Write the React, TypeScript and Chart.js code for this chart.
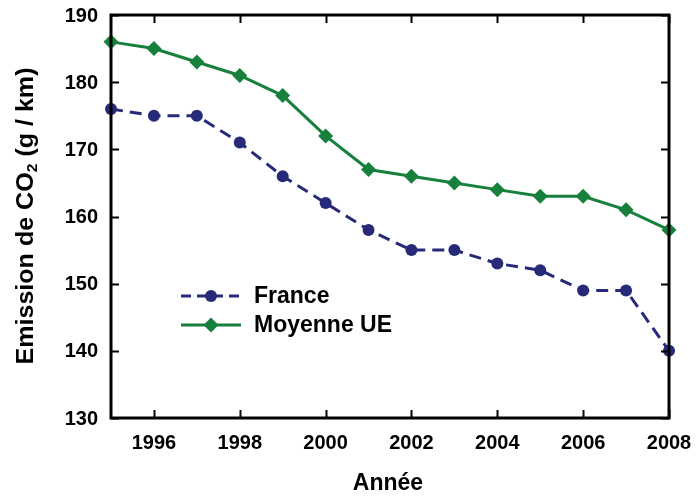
import React, { useEffect, useRef } from "react";
import { Chart, registerables } from "chart.js";

Chart.register(...registerables);

const years = [1995, 1996, 1997, 1998, 1999, 2000, 2001, 2002, 2003, 2004, 2005, 2006, 2007, 2008];
const france = [176, 175, 175, 171, 166, 162, 158, 155, 155, 153, 152, 149, 149, 140];
const moyenneUE = [186, 185, 183, 181, 178, 172, 167, 166, 165, 164, 163, 163, 161, 158];
const xTickValues = [1996, 1998, 2000, 2002, 2004, 2006, 2008];
const yTickValues = [130, 140, 150, 160, 170, 180, 190];

const FONT = "'Liberation Sans', Arial, Helvetica, sans-serif";
const NAVY = "#262a78";
const GREEN = "#16803c";

const framePlugin = {
  id: "frame",
  afterDatasetsDraw(chart: any) {
    const { ctx, chartArea: a, scales } = chart;
    const x = scales.x;
    const y = scales.y;
    ctx.save();
    ctx.strokeStyle = "#000";
    ctx.lineWidth = 3;
    ctx.strokeRect(a.left, a.top, a.right - a.left, a.bottom - a.top);
    ctx.lineWidth = 2;
    const tl = 8;
    ctx.beginPath();
    for (const v of xTickValues) {
      const px = Math.round(x.getPixelForValue(v)) + 0.5;
      ctx.moveTo(px, a.bottom);
      ctx.lineTo(px, a.bottom - tl);
      ctx.moveTo(px, a.top);
      ctx.lineTo(px, a.top + tl);
    }
    for (const v of yTickValues) {
      const py = Math.round(y.getPixelForValue(v)) + 0.5;
      ctx.moveTo(a.left, py);
      ctx.lineTo(a.left + tl, py);
      ctx.moveTo(a.right, py);
      ctx.lineTo(a.right - tl, py);
    }
    ctx.stroke();

    // tick labels
    ctx.fillStyle = "#000";
    ctx.font = `bold 20px ${FONT}`;
    ctx.textAlign = "center";
    ctx.textBaseline = "middle";
    for (const v of xTickValues) {
      ctx.fillText(String(v), x.getPixelForValue(v), a.bottom + 25);
    }
    ctx.textAlign = "right";
    for (const v of yTickValues) {
      ctx.fillText(String(v), a.left - 13, y.getPixelForValue(v) + 1);
    }

    // x title
    ctx.font = `bold 23px ${FONT}`;
    ctx.textAlign = "center";
    ctx.fillText("Année", (a.left + a.right) / 2 - 2, 484);

    // y title with subscript
    ctx.save();
    ctx.translate(26, 216);
    ctx.rotate(-Math.PI / 2);
    const big = `bold 24px ${FONT}`;
    const small = `bold 15px ${FONT}`;
    const parts: [string, string, number][] = [
      ["Emission de CO", big, 0],
      ["2", small, 7],
      [" (g / km)", big, 0],
    ];
    let total = 0;
    for (const [t, f] of parts) {
      ctx.font = f;
      total += ctx.measureText(t).width;
    }
    const target = 297;
    const sx = target / total;
    ctx.scale(sx, 1);
    let cx = -total / 2;
    ctx.textAlign = "left";
    for (const [t, f, dy] of parts) {
      ctx.font = f;
      ctx.fillText(t, cx, dy);
      cx += ctx.measureText(t).width;
    }
    ctx.restore();

    // legend
    const items = [
      { label: "France", color: NAVY, dash: [10, 6], marker: "circle", ly: 296 },
      { label: "Moyenne UE", color: GREEN, dash: [], marker: "diamond", ly: 325 },
    ];
    for (const it of items) {
      ctx.strokeStyle = it.color;
      ctx.lineWidth = 3;
      ctx.setLineDash(it.dash);
      ctx.beginPath();
      ctx.moveTo(181, it.ly);
      ctx.lineTo(241, it.ly);
      ctx.stroke();
      ctx.setLineDash([]);
      ctx.fillStyle = it.color;
      ctx.beginPath();
      if (it.marker === "circle") {
        ctx.arc(211, it.ly, 6, 0, Math.PI * 2);
      } else {
        ctx.moveTo(211, it.ly - 7.5);
        ctx.lineTo(218.5, it.ly);
        ctx.lineTo(211, it.ly + 7.5);
        ctx.lineTo(203.5, it.ly);
        ctx.closePath();
      }
      ctx.fill();
      ctx.fillStyle = "#000";
      ctx.font = `bold 23px ${FONT}`;
      ctx.textAlign = "left";
      ctx.textBaseline = "middle";
      ctx.fillText(it.label, 254, it.ly + 1);
    }
    ctx.restore();
  },
};

export default function App() {
  const ref = useRef<HTMLCanvasElement>(null);
  useEffect(() => {
    if (!ref.current) return;
    const chart = new Chart(ref.current, {
      type: "line",
      data: {
        datasets: [
          {
            label: "France",
            data: years.map((yr, i) => ({ x: yr, y: france[i] })),
            borderColor: NAVY,
            backgroundColor: NAVY,
            borderWidth: 3,
            borderDash: [12, 7],
            pointStyle: "circle",
            pointRadius: 6,
            pointBorderWidth: 0,
            tension: 0,
            clip: false as any,
          },
          {
            label: "Moyenne UE",
            data: years.map((yr, i) => ({ x: yr, y: moyenneUE[i] })),
            borderColor: GREEN,
            backgroundColor: GREEN,
            borderWidth: 3,
            pointStyle: "rectRot",
            pointRadius: 7.5,
            pointBorderWidth: 0,
            tension: 0,
            clip: false as any,
          },
        ],
      },
      options: {
        responsive: false,
        animation: false,
        layout: { padding: { top: 15, right: 27, left: 0, bottom: 0 } },
        plugins: { legend: { display: false }, tooltip: { enabled: false } },
        scales: {
          x: {
            type: "linear",
            min: 1995,
            max: 2008,
            grid: { display: false },
            border: { display: false },
            ticks: { display: false },
            afterFit: (s: any) => {
              s.height = 79;
            },
          },
          y: {
            min: 130,
            max: 190,
            grid: { display: false },
            border: { display: false },
            ticks: { display: false },
            afterFit: (s: any) => {
              s.width = 111;
            },
          },
        },
      },
      plugins: [framePlugin],
    });
    return () => chart.destroy();
  }, []);
  return (
    <div style={{ position: "fixed", left: 0, top: 0, width: 696, height: 497, background: "#fff" }}>
      <canvas ref={ref} width={696} height={497} />
    </div>
  );
}
